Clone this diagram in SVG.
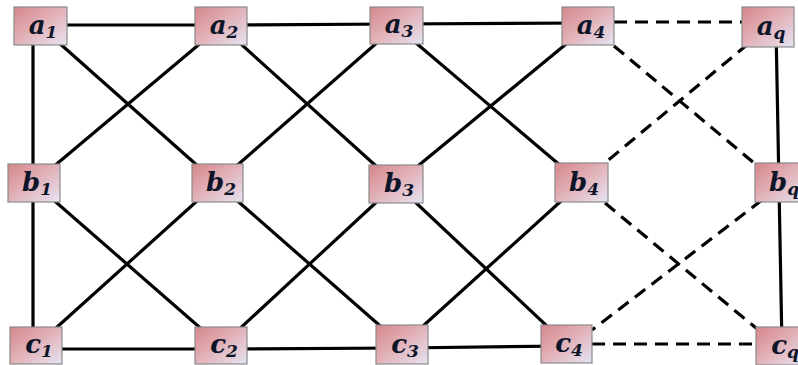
<svg xmlns="http://www.w3.org/2000/svg" width="798" height="365" viewBox="0 0 798 365">
<defs>
<linearGradient id="g" x1="0" y1="0" x2="1" y2="1">
<stop offset="0" stop-color="#d5868a"/>
<stop offset="0.5" stop-color="#e2b3ba"/>
<stop offset="1" stop-color="#e6e4f3"/>
</linearGradient>
<style>
.n rect{fill:url(#g);stroke:#8a8a8a;stroke-width:1.2}
.n text{font-family:"DejaVu Serif","Liberation Serif",serif;font-weight:bold;font-style:italic;font-size:26px;fill:#0d1529;text-anchor:middle}
.n tspan{font-size:17px}
.s{stroke:#000;stroke-width:3.2;fill:none}
.d{stroke:#000;stroke-width:3.2;fill:none;stroke-dasharray:13 8}
</style>
</defs>
<rect width="798" height="365" fill="#fff"/>
<g id="connectors">
<line class="s" x1="40" y1="25" x2="221" y2="25"/>
<line class="s" x1="221" y1="25" x2="396" y2="24"/>
<line class="s" x1="396" y1="24" x2="588" y2="23"/>
<line class="d" x1="614" y1="22" x2="742" y2="22"/>
<line class="s" x1="33" y1="26" x2="33" y2="346"/>
<line class="s" x1="776" y1="27" x2="782" y2="346"/>
<line class="s" x1="36" y1="349" x2="221" y2="349"/>
<line class="s" x1="221" y1="349" x2="402" y2="348"/>
<line class="s" x1="402" y1="348" x2="566" y2="346"/>
<line class="d" x1="592" y1="344" x2="756" y2="344"/>
<line class="s" x1="40" y1="26" x2="217" y2="183"/>
<line class="s" x1="221" y1="26" x2="34" y2="183"/>
<line class="s" x1="221" y1="26" x2="396" y2="184"/>
<line class="s" x1="396" y1="26" x2="217" y2="183"/>
<line class="s" x1="396" y1="26" x2="581" y2="183"/>
<line class="s" x1="588" y1="26" x2="396" y2="184"/>
<line class="d" x1="614" y1="46" x2="760" y2="168"/>
<line class="d" x1="748" y1="44" x2="600" y2="167"/>
<line class="s" x1="34" y1="183" x2="221" y2="346"/>
<line class="s" x1="217" y1="183" x2="36" y2="346"/>
<line class="s" x1="217" y1="183" x2="402" y2="345"/>
<line class="s" x1="396" y1="184" x2="221" y2="346"/>
<line class="s" x1="396" y1="184" x2="566" y2="344"/>
<line class="s" x1="581" y1="183" x2="402" y2="345"/>
<line class="d" x1="605" y1="203" x2="762" y2="333"/>
<line class="d" x1="762" y1="200" x2="592" y2="330"/>
</g>
<g id="a1" class="n"><rect x="14" y="7" width="53" height="38"/><text x="43" y="34">a<tspan dy="4">1</tspan></text></g>
<g id="a2" class="n"><rect x="195" y="7" width="52" height="38"/><text x="224" y="34">a<tspan dy="4">2</tspan></text></g>
<g id="a3" class="n"><rect x="370" y="7" width="53" height="37"/><text x="399" y="33">a<tspan dy="4">3</tspan></text></g>
<g id="a4" class="n"><rect x="562" y="7" width="52" height="38"/><text x="591" y="34">a<tspan dy="4">4</tspan></text></g>
<g id="aq" class="n"><rect x="742" y="7" width="52" height="40"/><text x="771" y="35">a<tspan dy="4">q</tspan></text></g>
<g id="b1" class="n"><rect x="8" y="164" width="52" height="38"/><text x="37" y="191">b<tspan dy="4">1</tspan></text></g>
<g id="b2" class="n"><rect x="192" y="164" width="51" height="38"/><text x="221" y="191">b<tspan dy="4">2</tspan></text></g>
<g id="b3" class="n"><rect x="369" y="165" width="54" height="38"/><text x="399" y="192">b<tspan dy="4">3</tspan></text></g>
<g id="b4" class="n"><rect x="555" y="163" width="53" height="39"/><text x="584" y="191">b<tspan dy="4">4</tspan></text></g>
<g id="bq" class="n"><rect x="755" y="163" width="50" height="39"/><text x="784" y="191">b<tspan dy="4">q</tspan></text></g>
<g id="c1" class="n"><rect x="10" y="327" width="52" height="37"/><text x="39" y="353">c<tspan dy="4">1</tspan></text></g>
<g id="c2" class="n"><rect x="195" y="327" width="52" height="37"/><text x="224" y="353">c<tspan dy="4">2</tspan></text></g>
<g id="c3" class="n"><rect x="376" y="325" width="52" height="39"/><text x="405" y="353">c<tspan dy="4">3</tspan></text></g>
<g id="c4" class="n"><rect x="541" y="325" width="51" height="38"/><text x="569" y="352">c<tspan dy="4">4</tspan></text></g>
<g id="cq" class="n"><rect x="756" y="327" width="50" height="38"/><text x="785" y="354">c<tspan dy="4">q</tspan></text></g>
</svg>
